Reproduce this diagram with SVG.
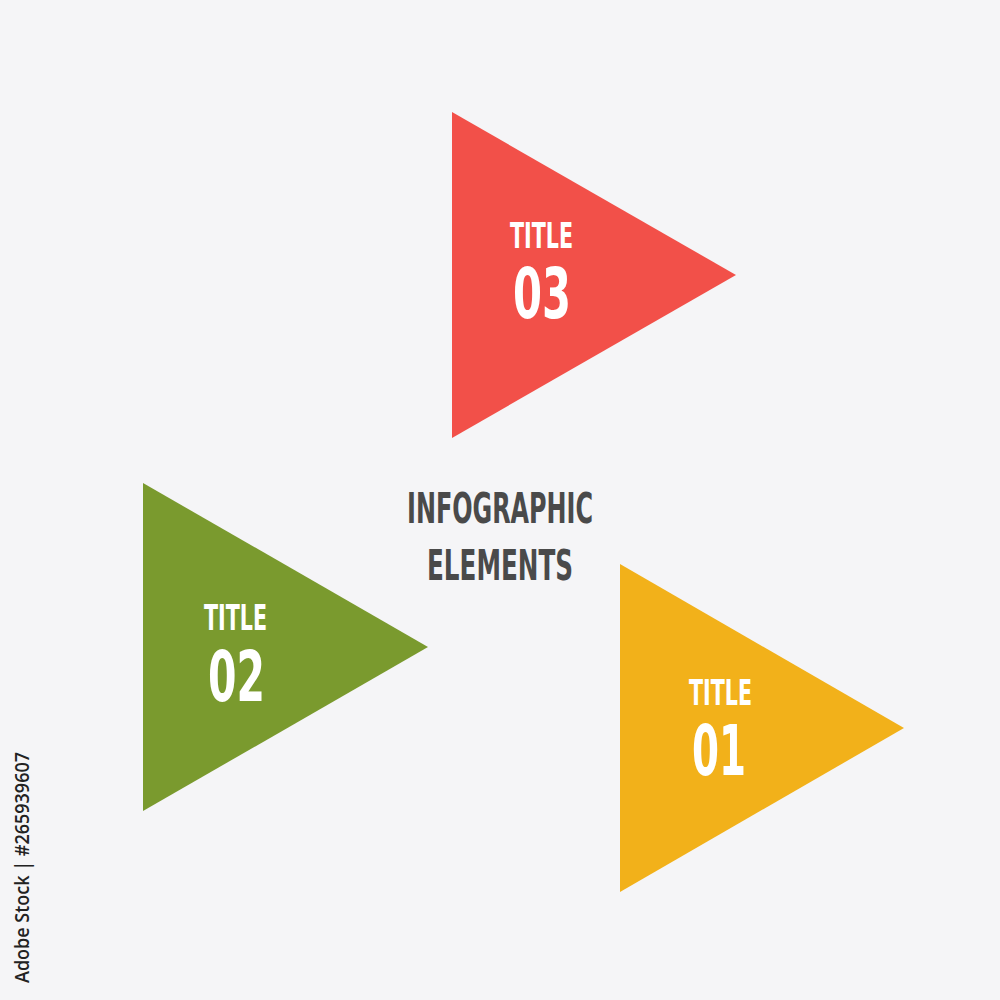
<svg xmlns="http://www.w3.org/2000/svg" width="1000" height="1000" viewBox="0 0 1000 1000">
  <style>
    .lbl { font-family: "Liberation Sans Narrow", "DejaVu Sans Condensed", "Liberation Sans", sans-serif; font-weight: bold; fill: #ffffff; }
    .head { font-family: "Liberation Sans Narrow", "DejaVu Sans Condensed", "Liberation Sans", sans-serif; font-weight: bold; fill: #4a4a4a; }
    .credit { font-family: "Open Sans", "Liberation Sans", sans-serif; font-weight: 600; fill: #222222; }
  </style>
  <rect width="1000" height="1000" fill="#f5f5f7"/>

  <g id="node-03">
    <polygon points="452,112 736,275 452,438" fill="#f25049"/>
    <text class="lbl" x="510" y="248" font-size="36" textLength="63" lengthAdjust="spacingAndGlyphs">TITLE</text>
    <text class="lbl" x="513" y="318" font-size="70" textLength="58" lengthAdjust="spacingAndGlyphs">03</text>
  </g>

  <g id="node-02">
    <polygon points="143,483 428,647 143,811" fill="#7a9a2e"/>
    <text class="lbl" x="204" y="630" font-size="36" textLength="63" lengthAdjust="spacingAndGlyphs">TITLE</text>
    <text class="lbl" x="208" y="701" font-size="70" textLength="57" lengthAdjust="spacingAndGlyphs">02</text>
  </g>

  <g id="node-01">
    <polygon points="620,564 904,728 620,892" fill="#f2b11a"/>
    <text class="lbl" x="689" y="705" font-size="36" textLength="63" lengthAdjust="spacingAndGlyphs">TITLE</text>
    <text class="lbl" x="692" y="775" font-size="70" textLength="54" lengthAdjust="spacingAndGlyphs">01</text>
  </g>

  <g id="center-title">
    <text class="head" x="407" y="523" font-size="43" textLength="186" lengthAdjust="spacingAndGlyphs">INFOGRAPHIC</text>
    <text class="head" x="427" y="580" font-size="43" textLength="146" lengthAdjust="spacingAndGlyphs">ELEMENTS</text>
  </g>

  <g id="connectors"></g>

  <text class="credit" transform="translate(29,983) rotate(-90)" x="0" y="0" font-size="20" textLength="231" lengthAdjust="spacingAndGlyphs">Adobe Stock | #265939607</text>
</svg>
